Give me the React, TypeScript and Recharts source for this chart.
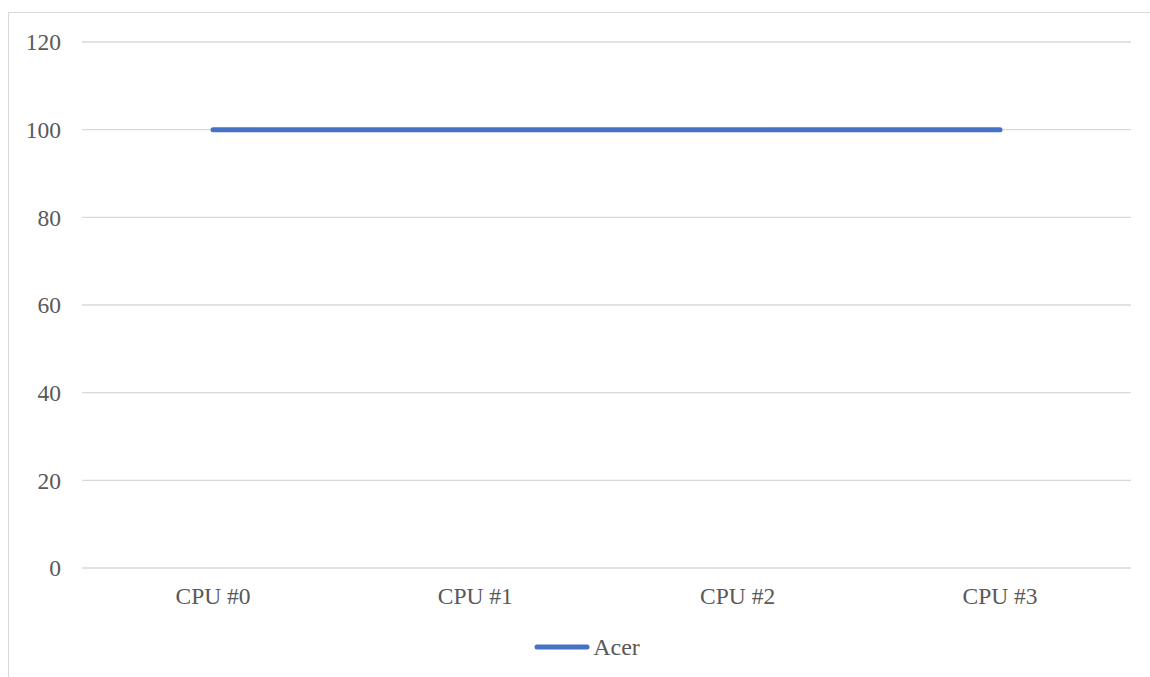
import React from "react";
import { LineChart, Line, XAxis, YAxis, CartesianGrid, Legend } from "recharts";

const categories = ["CPU #0", "CPU #1", "CPU #2", "CPU #3"];
const acerValues = [100, 100, 100, 100];
const yTicks = [0, 20, 40, 60, 80, 100, 120];

const data = categories.map((cpu, i) => ({ cpu, Acer: acerValues[i] }));

const font = '"Liberation Serif", "Times New Roman", serif';
const textColor = "#595959";
const gridColor = "#D9D9D9";
const lineColor = "#4472C4";

const LegendContent = () => (
  <div
    style={{
      height: 55,
      display: "flex",
      justifyContent: "center",
      alignItems: "flex-start",
      paddingLeft: 34,
      boxSizing: "border-box",
    }}
  >
    <div style={{ display: "flex", alignItems: "center", marginTop: 22, height: 24 }}>
      <svg width={56} height={8} style={{ marginRight: 3 }}>
        <line x1={3} y1={4} x2={53} y2={4} stroke={lineColor} strokeWidth={5} strokeLinecap="round" />
      </svg>
      <span style={{ fontFamily: font, fontSize: 24, color: textColor }}>Acer</span>
    </div>
  </div>
);

const App: React.FC = () => {
  return (
    <div
      style={{
        position: "absolute",
        top: 12,
        left: 8,
        width: 1141,
        height: 664,
        borderTop: `1px solid ${gridColor}`,
        borderLeft: `1px solid ${gridColor}`,
        background: "#fff",
      }}
    >
      <LineChart width={1141} height={664} data={data} margin={{ top: 29, right: 19, left: 0, bottom: 9 }}>
        <CartesianGrid vertical={false} stroke={gridColor} strokeWidth={1.3} />
        <XAxis
          dataKey="cpu"
          axisLine={false}
          tickLine={false}
          tickSize={0}
          tickMargin={19}
          height={45}
          padding={{ left: 131, right: 131 }}
          tick={{ fontFamily: font, fontSize: 23.5, fill: textColor }}
        />
        <YAxis
          domain={[0, 120]}
          ticks={yTicks}
          axisLine={false}
          tickLine={false}
          tickSize={0}
          tickMargin={21}
          width={73}
          tick={{ fontFamily: font, fontSize: 23.5, fill: textColor }}
        />
        <Legend verticalAlign="bottom" height={55} content={<LegendContent />} />
        <Line
          type="linear"
          dataKey="Acer"
          stroke={lineColor}
          strokeWidth={5}
          strokeLinecap="round"
          dot={false}
          activeDot={false}
          isAnimationActive={false}
        />
      </LineChart>
    </div>
  );
};

export default App;
